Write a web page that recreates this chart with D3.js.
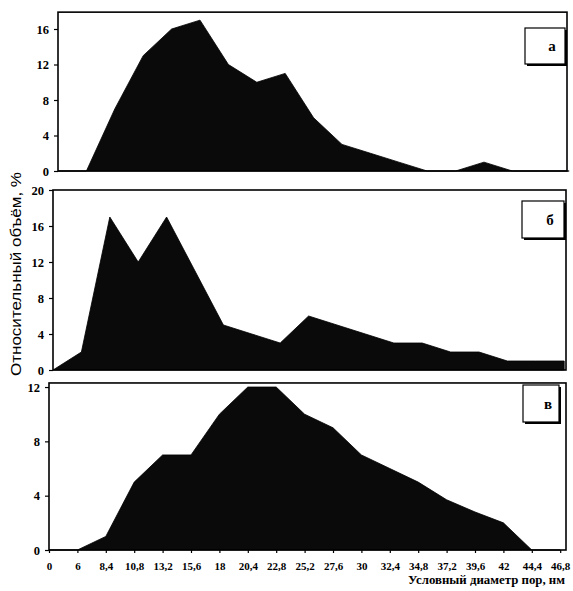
<!DOCTYPE html>
<html>
<head>
<meta charset="utf-8">
<script src="https://cdn.jsdelivr.net/npm/d3@7"></script>
<style>
body{margin:0;background:#fff;}
svg{display:block;}
.tick text{font-family:"Liberation Serif","Times New Roman",serif;font-weight:bold;}
</style>
</head>
<body>
<div id="chart"></div>
<script>
(function(){
var width = 573,
	height = 591,
	step = 28.4;

// pore diameter categories, nm
var diameters = ["0","6","8,4","10,8","13,2","15,6","18","20,4","22,8","25,2","27,6","30","32,4","34,8","37,2","39,6","42","44,4","46,8"];

// relative volume, %
var seriesA = [0,0,7,13,16,17,12,10,11,6,3,2,1,0,0,1,0,0,0],
	seriesB = [0,2,17,12,17,11,5,4,3,6,5,4,3,3,2,2,1,1,1],
	seriesC = [0,0,1,5,7,7,10,12,12,10,9,7,6,5,3.7,2.8,2,0,0];

var panelLabels = ["а","б","в"],
	yTicksA = [0,4,8,12,16],
	yTicksB = [0,4,8,12,16,20],
	yTicksC = [0,4,8,12];

// layout of the three panels (scan is a bit skewed, so each has its own left edge)
var panels = [
	{values:seriesA, label:panelLabels[0], ticks:yTicksA, ymax:17.9, left:58, right:567, bottom:171, unit:8.875, box:[525,28,40,36]},
	{values:seriesB, label:panelLabels[1], ticks:yTicksB, ymax:20, left:53, right:566, bottom:370, unit:9.0, box:[522,201,42,37]},
	{values:seriesC, label:panelLabels[2], ticks:yTicksC, ymax:12.3, left:49, right:566, bottom:550, unit:13.58, box:[523,385,36,37]}
];

var svg = d3.select("#chart").append("svg")
	.attr("width",width)
	.attr("height",height);

panels.forEach(function(p,k){
	var x = d3.scalePoint().domain(diameters).range([p.left, p.left + step*(diameters.length-1)]);
	var y = d3.scaleLinear().domain([0,p.ymax]).range([p.bottom, p.bottom - p.unit*p.ymax]);
	var g = svg.append("g").attr("class","panel");

	var area = d3.area()
		.x(function(d,i){ return x(diameters[i]); })
		.y0(y(0))
		.y1(function(d){ return y(d); });

	g.append("path")
		.datum(p.values)
		.attr("d",area)
		.attr("fill","#0a0a0a")
		.attr("stroke","#000")
		.attr("stroke-width",0.8);

	g.append("rect")
		.attr("x",p.left).attr("y",y(p.ymax))
		.attr("width",p.right-p.left).attr("height",y(0)-y(p.ymax))
		.attr("fill","none").attr("stroke","#000").attr("stroke-width",1.6);

	var ya = g.append("g")
		.attr("transform","translate("+p.left+",0)")
		.call(d3.axisLeft(y).tickValues(p.ticks).tickSize(4).tickPadding(5));
	ya.select(".domain").remove();
	ya.selectAll("line").attr("stroke","#000").attr("stroke-width",1.2);
	ya.selectAll("text").attr("font-size",12.5).attr("fill","#000");

	// label box with heavier right/bottom edge
	var b = p.box;
	g.append("rect").attr("x",b[0]+2).attr("y",b[1]+2).attr("width",b[2]).attr("height",b[3]).attr("fill","#000");
	g.append("rect").attr("x",b[0]).attr("y",b[1]).attr("width",b[2]).attr("height",b[3])
		.attr("fill","#fff").attr("stroke","#000").attr("stroke-width",1.2);
	g.append("text")
		.attr("x",b[0]+b[2]/2+7).attr("y",b[1]+b[3]/2+5)
		.attr("text-anchor","middle")
		.attr("font-family","Liberation Serif, serif")
		.attr("font-weight","bold")
		.attr("font-size",15)
		.text(p.label);

	if (k == panels.length-1){
		var xa = g.append("g")
			.attr("transform","translate(0,"+y(0)+")")
			.call(d3.axisBottom(x).tickSize(3).tickPadding(9));
		xa.select(".domain").remove();
		xa.selectAll("line").attr("stroke","#000").attr("stroke-width",1.2);
		xa.selectAll("text").attr("font-size",11).attr("fill","#000");
	}
});

svg.append("text")
	.attr("transform","translate(21,274) rotate(-90)")
	.attr("text-anchor","middle")
	.attr("font-family","Liberation Sans Narrow, Liberation Sans, Arial, sans-serif")
	.attr("font-size",14)
	.attr("textLength",204)
	.attr("lengthAdjust","spacingAndGlyphs")
	.text("Относительный объём, %");

svg.append("text")
	.attr("x",565).attr("y",584)
	.attr("text-anchor","end")
	.attr("font-family","Liberation Serif, serif")
	.attr("font-weight","bold")
	.attr("font-size",12.5)
	.attr("textLength",157)
	.attr("lengthAdjust","spacingAndGlyphs")
	.text("Условный диаметр пор, нм");
})()
</script>
</body>
</html>
